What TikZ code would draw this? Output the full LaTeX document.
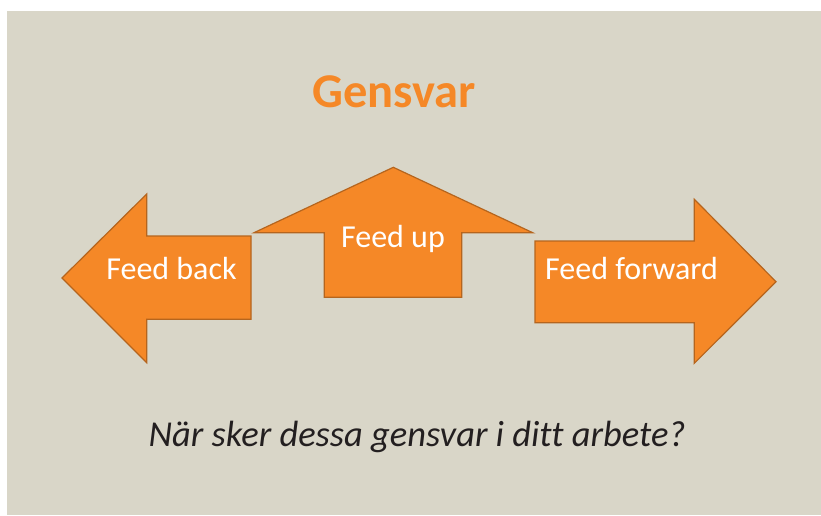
\documentclass[tikz,border=0pt]{standalone}
\usepackage{fontspec}
\setmainfont[RawFeature=-liga]{Carlito}
\definecolor{bg}{HTML}{D9D6C8}
\definecolor{arrfill}{HTML}{F58827}
\definecolor{arredge}{HTML}{B5651E}
\definecolor{qtext}{HTML}{231F20}
\begin{document}
\begin{tikzpicture}[x=1pt,y=-1pt,
  arrowshape/.style={fill=arrfill,draw=arredge,line width=1.2pt,line join=miter},
  arrowlabel/.style={text=white,font=\fontsize{32}{36}\selectfont,inner sep=0pt,anchor=base}]
\useasboundingbox (0,0) rectangle (821,515);
\fill[bg] (7,11) rectangle (821,515);
% left arrow
\draw[arrowshape] (62,278) -- (146.7,194) -- (146.7,236) -- (251,236) -- (251,319.3) -- (146.7,319.3) -- (146.7,362.7) -- cycle;
% up arrow
\draw[arrowshape] (393.3,167.3) -- (532.7,232.7) -- (461.7,232.7) -- (461.7,297.3) -- (324.3,297.3) -- (324.3,232.7) -- (254,232.7) -- cycle;
% right arrow
\draw[arrowshape] (776,281.7) -- (694.3,199.3) -- (694.3,241) -- (535,241) -- (535,322.7) -- (694.3,322.7) -- (694.3,363.3) -- cycle;
\node[arrowlabel] (fb) at (171.5,279.5) {Feed back};
\node[arrowlabel] (fu) at (393,247.5) {Feed up};
\node[arrowlabel,anchor=base west] (ff) at (545,279.5) {Feed forward};
\node[text=arrfill,font=\fontsize{48.5}{52}\selectfont\bfseries,inner sep=0pt,anchor=base] (title) at (394,107.7) {Gensvar};
\node[text=qtext,font=\fontsize{36.5}{40}\selectfont\itshape,inner sep=0pt,anchor=base] (q) at (417,446) {När sker dessa gensvar i ditt arbete?};
\end{tikzpicture}
\end{document}
